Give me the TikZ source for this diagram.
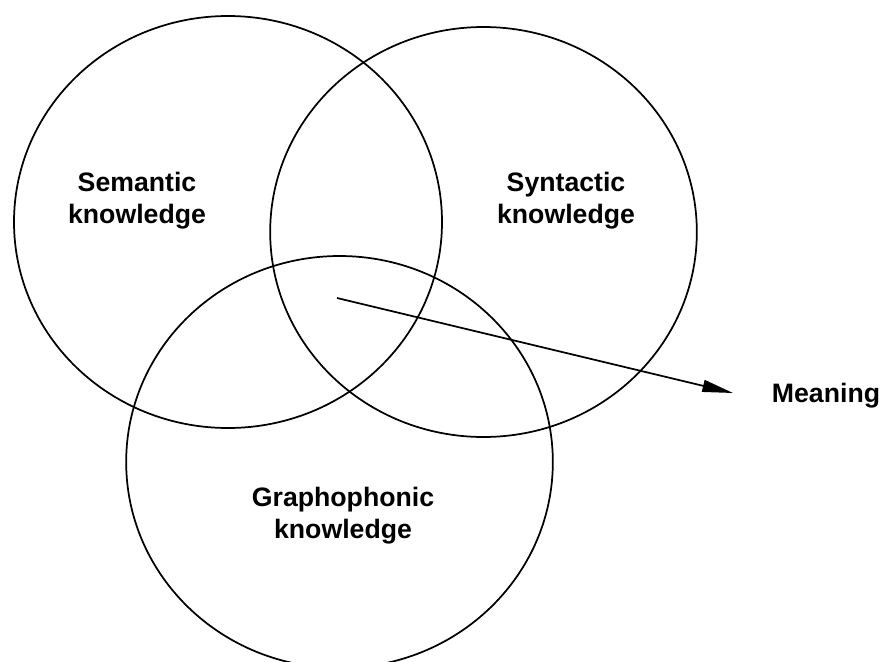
\documentclass[tikz,border=0pt]{standalone}
\usepackage{fontspec}
\setmainfont{Liberation Sans}
\usetikzlibrary{positioning, arrows.meta, shapes.geometric}

\begin{document}
\begin{tikzpicture}[
  x=0.75pt, y=-0.75pt,
  set/.style={draw, ellipse, line width=1.3pt, inner sep=0pt, outer sep=0pt},
  label/.style={align=center, font=\bfseries\fontsize{20pt}{24pt}\selectfont},
  arrow/.style={-{Triangle[length=23pt, width=9pt]}, line width=1.3pt}
]
  \useasboundingbox (0,0) rectangle (884,661);

  % Circles
  \node[set, minimum width=321pt, minimum height=309pt] (sem) at (228,222) {};
  \node[set, minimum width=320pt, minimum height=307.5pt] (syn) at (483.5,232) {};
  \node[set, minimum width=320pt, minimum height=309pt] (gra) at (339.5,462) {};

  % Labels
  \node[label] (semtext) at (137,201) {Semantic\\knowledge};
  \node[label] (syntext) at (566,201) {Syntactic\\knowledge};
  \node[label] (gratext) at (343,516) {Graphophonic\\knowledge};
  \node[label] (meaning) at (826,396) {Meaning};

  % Arrow
  \coordinate (src) at (337,298);
  \coordinate (tip) at (733,393);
  \draw[arrow] (src) -- (tip);

\end{tikzpicture}
\end{document}
